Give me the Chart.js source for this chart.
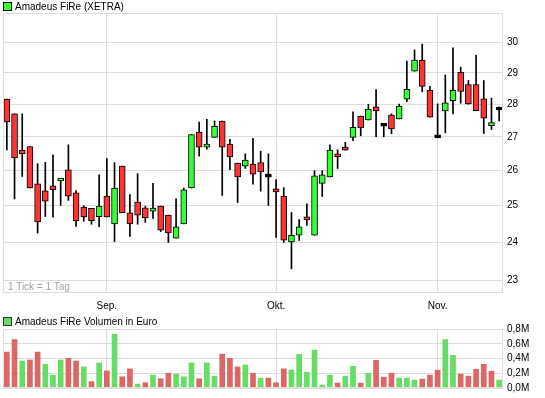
<!DOCTYPE html>
<html>
<head>
<meta charset="utf-8">
<script src="https://cdn.jsdelivr.net/npm/chart.js@4.4.0/dist/chart.umd.min.js"></script>
<style>
  body { margin: 0; background: #fff; }
  #wrap { position: relative; width: 545px; height: 398px; font-family: "Liberation Sans", Arial, sans-serif; font-size: 10px; line-height: 10px; }
  canvas { position: absolute; left: 0; }
  .box { position: absolute; left: 3px; width: 9px; height: 9px; box-sizing: border-box; border: 1px solid #000; }
  .txt { position: absolute; left: 15px; white-space: nowrap; color: #000; }
</style>
</head>
<body>
<div id="wrap">
  <canvas id="price" width="545" height="312" style="top:0"></canvas>
  <canvas id="vol" width="545" height="86" style="top:312px"></canvas>
  <div class="box" style="top:2px; background:#33ff33"></div>
  <div class="txt" style="top:2px">Amadeus FiRe (XETRA)</div>
  <div class="txt" style="top:282px; left:8px; color:#a0a0a0">1 Tick = 1 Tag</div>
  <div class="box" style="top:317px; background:#66dd66; border-color:#333"></div>
  <div class="txt" style="top:317px">Amadeus FiRe Volumen in Euro</div>
</div>
<script>
// daily candles (EUR), one entry per trading day
const open  = [28.16, 27.70, 26.60, 26.71, 25.62, 25.42, 25.56, 25.70, 26.02, 25.36, 24.96, 24.93, 24.70, 25.27, 24.50, 26.13, 24.80, 25.10, 24.94, 24.85, 24.99, 24.74, 24.11, 24.50, 25.50, 27.14, 26.69, 26.98, 27.48, 26.78, 26.22, 26.13, 26.19, 26.23, 25.82, 25.46, 25.27, 24.01, 24.19, 24.67, 24.19, 25.63, 25.82, 26.49, 26.69, 26.98, 27.63, 27.51, 27.92, 27.33, 27.66, 27.54, 28.16, 29.05, 29.41, 28.44, 26.98, 27.79, 28.11, 29.01, 28.62, 28.62, 28.17, 27.34, 27.82];
const high  = [28.16, 27.70, 27.70, 26.71, 26.20, 26.24, 26.46, 25.76, 26.76, 25.43, 25.00, 24.93, 25.88, 26.35, 26.23, 26.13, 25.31, 25.91, 24.99, 25.63, 24.99, 24.74, 25.19, 25.50, 27.07, 27.45, 27.53, 27.48, 27.48, 26.92, 26.22, 26.49, 26.95, 26.57, 26.49, 25.74, 25.51, 24.81, 24.62, 25.05, 26.00, 26.00, 26.76, 26.61, 26.83, 27.76, 27.63, 28.00, 28.46, 27.37, 27.70, 28.00, 29.38, 29.75, 29.94, 28.56, 28.01, 28.93, 29.82, 29.18, 28.75, 29.57, 28.75, 28.19, 27.91];
const low   = [26.61, 25.19, 25.83, 25.50, 24.25, 24.70, 24.68, 25.01, 25.15, 24.43, 24.57, 24.49, 24.42, 24.69, 24.02, 24.81, 24.16, 24.49, 24.54, 24.65, 24.29, 24.00, 24.11, 24.50, 25.50, 26.42, 26.63, 26.98, 25.29, 26.03, 25.09, 26.06, 25.61, 25.41, 25.01, 24.13, 24.00, 23.30, 24.05, 24.46, 24.19, 25.26, 25.82, 26.06, 26.60, 26.88, 27.03, 27.51, 27.00, 27.00, 27.09, 27.54, 28.08, 29.05, 28.39, 27.60, 26.97, 27.12, 27.70, 28.03, 28.00, 27.80, 27.10, 27.22, 27.48];
const close = [27.45, 26.37, 26.49, 25.50, 24.55, 25.13, 25.45, 25.76, 25.27, 24.58, 24.69, 24.59, 24.99, 24.69, 25.50, 24.81, 24.50, 24.74, 24.66, 24.93, 24.33, 24.25, 24.42, 25.45, 27.07, 26.69, 26.75, 27.32, 26.69, 26.40, 25.82, 26.31, 25.90, 25.96, 25.81, 25.39, 24.06, 24.19, 24.42, 24.61, 25.85, 25.88, 26.60, 26.40, 26.60, 27.29, 27.27, 27.85, 27.79, 27.32, 27.24, 27.94, 28.47, 29.41, 28.56, 27.60, 26.97, 28.04, 28.44, 28.40, 28.01, 27.80, 27.57, 27.41, 27.82];
// turnover in million EUR
const volume = [0.487, 0.657, 0.366, 0.380, 0.487, 0.322, 0.174, 0.380, 0.402, 0.366, 0.286, 0.085, 0.340, 0.232, 0.728, 0.152, 0.259, 0.054, 0.071, 0.174, 0.125, 0.201, 0.188, 0.152, 0.340, 0.125, 0.340, 0.161, 0.460, 0.402, 0.286, 0.312, 0.201, 0.134, 0.134, 0.071, 0.259, 0.245, 0.456, 0.214, 0.514, 0.040, 0.174, 0.067, 0.161, 0.295, 0.067, 0.201, 0.375, 0.147, 0.201, 0.134, 0.134, 0.107, 0.120, 0.174, 0.241, 0.657, 0.442, 0.188, 0.161, 0.255, 0.322, 0.228, 0.107];

const monthNames = ['Sep.', 'Okt.', 'Nov.'];
const monthStart = [13, 35, 56];   // index of first trading day of the month
const priceTicks = [23, 24, 25, 26, 27, 28, 29, 30];
const volTicks = [0, 0.2, 0.4, 0.6, 0.8];

const GRID = '#dddddd';
const UP = '#33ff33', DOWN = '#ff3333';
const VUP = '#66dd66', VDOWN = '#dd6666';

const xLabels = open.map((_, i) => {
    const k = monthStart.indexOf(i);
    return k >= 0 ? monthNames[k] : '';
});

Chart.defaults.font.family = '"Liberation Sans", Arial, sans-serif';
Chart.defaults.font.size = 10;
Chart.defaults.color = '#000';

function bodyColor(i) {
    if (Math.abs(close[i] - open[i]) < 0.015) return '#000';
    return close[i] >= open[i] ? UP : DOWN;
}
function volColor(i) {
    const up = i === 0 ? close[0] >= open[0] : close[i] >= close[i - 1];
    return up ? VUP : VDOWN;
}

// plot border around chart area
const frame = {
    id: 'frame',
    afterDraw(chart) {
        const a = chart.chartArea, c = chart.ctx;
        c.save();
        c.strokeStyle = GRID;
        c.lineWidth = 1;
        c.strokeRect(Math.round(a.left) + 0.5, Math.round(a.top) + 0.5,
            Math.round(a.right - a.left) - 1, Math.round(a.bottom - a.top) - 1);
        c.restore();
    }
};

const xAxis = (h, showLabels) => ({
    grid: { offset: false, color: GRID, drawTicks: false },
    border: { display: false },
    ticks: { display: showLabels, padding: 7, maxRotation: 0, autoSkip: false },
    afterBuildTicks: s => { s.ticks = monthStart.map(v => ({ value: v })); },
    afterFit: s => { s.height = h; }
});

new Chart(document.getElementById('price'), {
    type: 'bar',
    data: {
        labels: xLabels,
        datasets: [
            {
                label: 'Amadeus FiRe (XETRA)',
                data: open.map((o, i) => [o, close[i]]),
                backgroundColor: ctx => bodyColor(ctx.dataIndex),
                borderColor: '#000',
                borderWidth: 1,
                borderSkipped: false,
                barThickness: 6,
                minBarLength: 3,
                grouped: false,
                order: 1
            },
            {
                label: 'range',
                data: low.map((l, i) => [l, high[i]]),
                backgroundColor: '#000',
                barThickness: 1,
                grouped: false,
                order: 2
            }
        ]
    },
    options: {
        responsive: false,
        animation: false,
        events: [],
        layout: { padding: { top: 13, left: 3, right: 0, bottom: 0 } },
        plugins: { legend: { display: false }, tooltip: { enabled: false } },
        scales: {
            x: xAxis(19, true),
            y: {
                type: 'logarithmic',
                position: 'right',
                min: 22.68,
                max: 31.0,
                grid: { color: GRID, drawTicks: false },
                border: { display: false },
                ticks: { padding: 4, callback: v => String(v) },
                afterBuildTicks: s => { s.ticks = priceTicks.map(v => ({ value: v })); },
                afterFit: s => { s.width = 42; }
            }
        }
    },
    plugins: [frame]
});

new Chart(document.getElementById('vol'), {
    type: 'bar',
    data: {
        labels: xLabels,
        datasets: [{
            label: 'Amadeus FiRe Volumen in Euro',
            data: volume,
            backgroundColor: ctx => volColor(ctx.dataIndex),
            barThickness: 5
        }]
    },
    options: {
        responsive: false,
        animation: false,
        events: [],
        layout: { padding: { top: 17, left: 3, right: 0, bottom: 0 } },
        plugins: { legend: { display: false }, tooltip: { enabled: false } },
        scales: {
            x: xAxis(9, false),
            y: {
                position: 'right',
                min: 0,
                max: 0.8,
                grid: { color: GRID, drawTicks: false },
                border: { display: false },
                ticks: { padding: 4, callback: v => v.toFixed(1).replace('.', ',') + 'M' },
                afterBuildTicks: s => { s.ticks = volTicks.map(v => ({ value: v })); },
                afterFit: s => { s.width = 42; }
            }
        }
    },
    plugins: [frame]
});
</script>
</body>
</html>
